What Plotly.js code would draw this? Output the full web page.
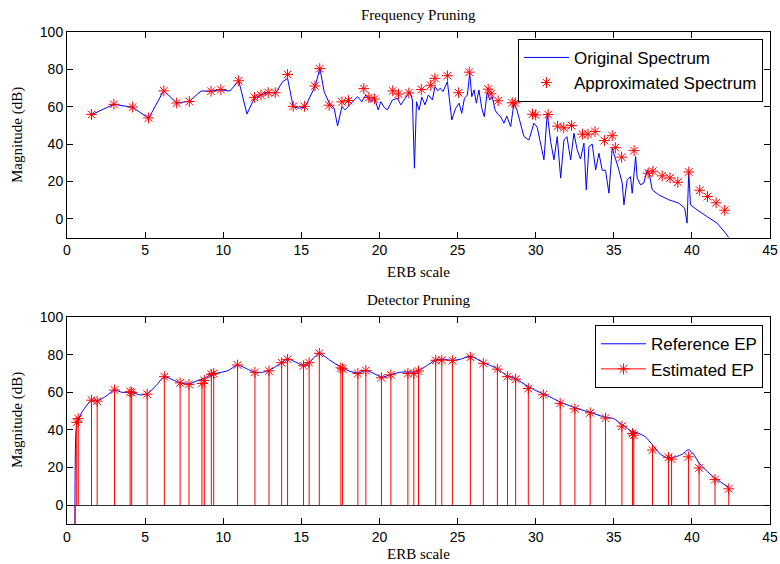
<!DOCTYPE html>
<html>
<head>
<meta charset="utf-8">
<script src="https://cdn.plot.ly/plotly-3.0.1.min.js"></script>
<style>html,body{margin:0;padding:0;background:#fff;}#chart{width:780px;height:564px;}</style>
</head>
<body>
<div id="chart"></div>
<script>
// ---- Top panel: Frequency Pruning ----
const origX = [1.57,2.99,4.2,5.23,6.19,7.02,7.83,8.58,9.22,9.81,10.43,10.99,11.52,11.99,12.41,12.84,13.37,13.8,14.12,14.48,14.87,15.25,15.89,16.19,16.46,16.78,17.1,17.32,17.6,17.8,18.1,18.6,18.87,19.13,19.45,19.66,19.92,20.09,20.3,20.51,20.83,21.15,21.37,21.69,21.94,22.11,22.24,22.37,22.54,22.71,22.92,23.13,23.39,23.56,23.73,23.9,24.07,24.35,24.63,24.88,25.1,25.27,25.44,25.63,25.78,25.91,26.06,26.2,26.37,26.55,26.71,26.9,27.06,27.22,27.4,27.57,27.76,27.97,28.15,28.4,28.61,28.8,29.0,29.25,29.57,29.89,30.1,30.32,30.53,30.74,30.96,31.17,31.38,31.6,31.81,32.0,32.24,32.45,32.66,32.87,33.09,33.24,33.41,33.62,33.84,34.05,34.26,34.47,34.69,34.9,35.1,35.3,35.54,35.65,35.86,36.07,36.18,36.4,36.5,36.71,36.92,37.14,37.29,37.46,37.88,38.52,39.16,39.54,39.69,39.8,39.91,40.33,40.97,41.61,42.15,42.36,42.6];
const origY = [55.7,61.3,59.7,53.8,68.6,62,62.9,68.4,68.4,69,68.4,74,56.1,64.5,66.3,67.5,67.5,73.4,75.2,60,59.2,60,71.1,80.6,68.1,62,59.2,49.7,60,58.3,61,65.4,62.7,66.3,62.7,65.4,58.3,62.7,59.7,58.3,63.6,64.5,61,65.4,68.1,63.6,27.1,62.7,58.3,65.1,61,66.3,63.6,70.8,68.6,69.9,68.1,73.4,52.9,59.2,61.9,56.5,64.5,66.3,77.9,65.4,69,61.9,69,59.2,54.7,68,63.6,65.4,58.3,56,54.7,51.2,55,49.4,61.9,58.3,52,44,42.2,51.2,49,39.6,31.6,56.5,41.3,31.6,44,21.8,42.2,44,31.6,45.8,36.9,32,40.5,15.5,38.7,40,26.2,35.1,26,26,13.7,37.8,33,27,19.1,7.5,20.9,22.6,13.7,33.3,21.8,18.2,19.1,26.2,23.5,15.5,12.8,10.2,8.4,5.7,-2.3,25.3,7.5,4.8,1.2,-2.3,-7.6,-10.3,-13];

const apprX = [1.57,3.0,4.2,5.22,6.2,7.02,7.83,9.22,9.85,10.99,12.0,12.42,12.88,13.33,14.12,14.48,15.2,15.87,16.18,16.78,17.6,18.02,19.0,19.32,19.68,20.85,21.22,21.88,22.68,23.28,23.55,24.35,25.07,25.75,26.96,27.14,27.6,28.5,28.69,29.8,30.0,30.8,31.4,31.8,32.3,33.0,33.35,33.8,34.4,34.9,35.1,35.5,36.3,37.2,37.5,38.1,38.6,39.1,39.8,40.5,41.0,41.55,42.1];
const apprY = [55.9,61.3,59.8,54.0,68.5,62,62.8,68.3,69.2,73.9,65.0,66.3,67.6,67.5,77.3,60.2,60.2,71.1,80.4,60.8,62.6,63.3,69.7,64.9,64.1,68.5,66.8,67.4,69.2,71.5,75.2,76.6,67.5,78.5,69.4,66.9,63.2,62.1,62.1,56,55.6,55.8,49.6,48.7,49.9,45.3,45.3,46.7,41.9,44.5,38.1,33,36.5,24.4,25.5,23,21.9,19.6,25.1,15.3,11.9,8.6,4.6];

// ---- Bottom panel: Detector Pruning ----
const refX = [0.52,0.6,0.75,1.0,1.57,2.0,2.5,3.04,3.5,4.1,4.7,5.13,5.7,6.23,6.8,7.24,7.81,8.3,8.79,9.24,9.8,10.3,10.92,11.5,12.03,12.5,12.93,13.74,14.12,14.6,15.14,15.5,16.15,16.8,17.55,18.1,18.62,19.13,19.6,20.13,20.73,21.3,21.82,22.2,22.5,23.0,23.6,24.0,24.67,25.2,25.82,26.65,27.55,28.2,28.72,29.53,30.49,31.0,31.57,32.51,33.49,34.47,35.0,35.52,36.2,36.5,37.03,37.48,38.0,38.5,39.0,39.4,39.78,40.1,40.46,41.0,41.48,42.0,42.36];
const refY = [-60,42,46,50,55.8,55.6,58,61.2,60,60,58.6,59.2,63.5,68.3,66.5,65,64.4,66,67.5,69.5,70.5,71.5,74.5,72.5,70.6,70.6,71.6,75.7,77.8,76.2,74.3,75.9,80.8,77.2,73.2,71.2,70.2,71.6,70.2,68,69.4,70.6,70.8,70.6,71.3,74,77.2,77.6,77,77.6,79.2,75.8,72.5,68.6,67.2,63,59,57.2,54.8,51.8,49.3,46.7,46,42.8,39,38.5,36.3,32,27,25,25.8,27.2,29.5,27.2,22.4,17.8,14.4,11.4,9.6];

const estX = [0.52,0.62,0.72,1.57,1.93,3.04,4.04,4.14,5.13,6.23,7.24,7.81,8.64,8.79,9.24,9.39,10.92,12.03,12.93,13.74,14.12,15.14,15.5,16.15,17.53,17.64,18.62,19.13,20.13,20.73,21.82,22.2,22.5,23.6,23.99,24.67,25.82,26.65,27.55,28.2,28.72,29.53,30.49,31.57,32.51,33.49,34.47,35.52,36.2,36.28,37.48,38.5,38.7,39.78,40.46,41.48,42.36];
const estY = [-60,44,46,55.8,55.3,61.2,60.3,59.9,59,68.3,65,64.2,64.7,66.3,69.5,70,74.5,70.6,71.4,75.7,77.5,74.1,75.7,80.7,73,72.5,70,71.6,67.7,69.3,70,70,71.3,77,77.1,76.8,78.6,75.4,72.3,68.3,67,62,58.7,54.1,51.2,49.1,46.3,42,38.1,37.2,29.3,25.4,24.5,25.7,19.8,13.7,8.7];

const xTicks = [0,5,10,15,20,25,30,35,40,45];
const yTicks = [0,20,40,60,80,100];

// build stem geometry from the data arrays
const stemX = [], stemY = [], stemC = [];
estX.forEach((x, i) => {
  stemX.push(x, x, null);
  stemY.push(estY[i], 0, null);
  stemC.push('#FF0000', 'rgba(0,0,0,0)', 'rgba(0,0,0,0)');
});

const BLUE = '#0000FF', RED = '#FF0000';
const traces = [
  {x: origX, y: origY, type: 'scatter', mode: 'lines', name: 'Original Spectrum',
   line: {color: BLUE, width: 1}, xaxis: 'x', yaxis: 'y', legend: 'legend'},
  {x: apprX, y: apprY, type: 'scatter', mode: 'markers', name: 'Approximated Spectrum',
   marker: {symbol: 'asterisk-open', size: 9, color: RED, line: {width: 1, color: RED}},
   xaxis: 'x', yaxis: 'y', legend: 'legend'},
  {x: refX, y: refY, type: 'scatter', mode: 'lines', name: 'Reference EP',
   line: {color: BLUE, width: 1, shape: 'spline', smoothing: 0.6}, xaxis: 'x2', yaxis: 'y2', legend: 'legend2'},
  {x: stemX, y: stemY, type: 'scatter', mode: 'lines+markers', name: 'Estimated EP',
   line: {color: RED, width: 1}, connectgaps: false,
   marker: {symbol: 'asterisk-open', size: 9, color: stemC, line: {width: 1}},
   xaxis: 'x2', yaxis: 'y2', legend: 'legend2'}
];

const tickFont = {family: 'Liberation Sans, Arial, sans-serif', size: 14, color: '#000'};
const axisBase = {
  showgrid: false, zeroline: false, showline: true, linecolor: '#000', linewidth: 1,
  mirror: 'ticks', ticks: 'inside', ticklen: 6, tickcolor: '#000', tickfont: tickFont
};
const xa = Object.assign({}, axisBase, {range: [0, 45], tickvals: xTicks, ticktext: xTicks.map(String)});
const ya = Object.assign({}, axisBase, {range: [-10, 100], tickvals: yTicks, ticktext: yTicks.map(String)});
const serif = {family: 'Liberation Serif, Times New Roman, serif', size: 15, color: '#000'};
const legendBase = {
  bgcolor: '#fff', bordercolor: '#000', borderwidth: 1, xanchor: 'right', yanchor: 'top',
  font: {family: 'Liberation Sans, Arial, sans-serif', size: 17, color: '#000'},
  tracegroupgap: 0, itemwidth: 45
};

const layout = {
  width: 780, height: 564,
  margin: {l: 67, r: 10, t: 32, b: 40},
  paper_bgcolor: '#fff', plot_bgcolor: '#fff',
  showlegend: true,
  xaxis: Object.assign({}, xa, {domain: [0, 1], anchor: 'y'}),
  yaxis: Object.assign({}, ya, {domain: [0.5823, 1], anchor: 'x'}),
  xaxis2: Object.assign({}, xa, {domain: [0, 1], anchor: 'y2'}),
  yaxis2: Object.assign({}, ya, {domain: [0, 0.4207], anchor: 'x2',
    zeroline: true, zerolinecolor: '#333', zerolinewidth: 1}),
  legend: Object.assign({}, legendBase, {x: 0.99, y: 0.986}),
  legend2: Object.assign({}, legendBase, {x: 0.99, y: 0.404}),
  annotations: [
    {text: 'Frequency Pruning', xref: 'paper', yref: 'paper', x: 0.5, y: 1.0346, showarrow: false, font: serif, yanchor: 'middle'},
    {text: 'Detector Pruning', xref: 'paper', yref: 'paper', x: 0.5, y: 0.4553, showarrow: false, font: serif, yanchor: 'middle'},
    {text: 'ERB scale', xref: 'paper', yref: 'paper', x: 0.5, y: 0.5122, showarrow: false, font: serif, yanchor: 'middle'},
    {text: 'ERB scale', xref: 'paper', yref: 'paper', x: 0.5, y: -0.061, showarrow: false, font: serif, yanchor: 'middle'},
    {text: 'Magnitude (dB)', xref: 'paper', yref: 'paper', x: -0.0697, y: 0.7907, showarrow: false, font: serif, textangle: -90, xanchor: 'center', yanchor: 'middle'},
    {text: 'Magnitude (dB)', xref: 'paper', yref: 'paper', x: -0.0697, y: 0.2114, showarrow: false, font: serif, textangle: -90, xanchor: 'center', yanchor: 'middle'}
  ]
};

Plotly.newPlot('chart', traces, layout, {displayModeBar: false, staticPlot: true});
</script>
</body>
</html>
